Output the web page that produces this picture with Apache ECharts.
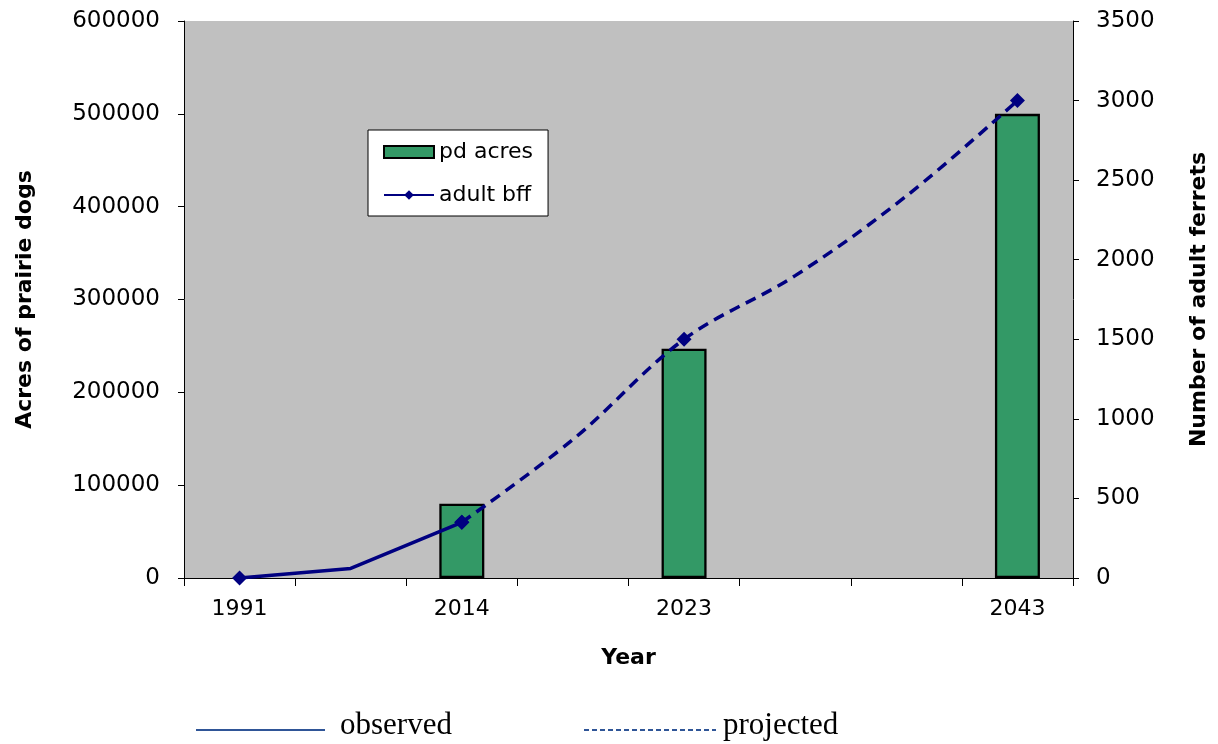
<!DOCTYPE html>
<html>
<head>
<meta charset="utf-8">
<script src="https://cdn.jsdelivr.net/npm/echarts@6/dist/echarts.min.js"></script>
<style>html,body{margin:0;padding:0;background:#fff;overflow:hidden;}#c{width:1218px;height:744px;}</style>
</head>
<body>
<div id="c"></div>
<script>
// Category slots (8 equal slots; only some are labelled)
var categories = ['1991', ' ', '2014', '  ', '2023', '   ', '    ', '2043'];
// Acres of prairie dogs (bars, left axis)
var pdAcres = [null, null, 80000, null, 247000, null, null, 500000];
// Adult black-footed ferrets (line, right axis)
var bffObserved = [0, 60, 350, null, null, null, null, null];
var bffProjected = [null, null, 350, 870, 1500, 1900, 2400, 3000];
// slots that carry a diamond marker
var markerSlots = [0, 2, 4, 7];
var leftTicks = [0, 100000, 200000, 300000, 400000, 500000, 600000];
var rightTicks = [0, 500, 1000, 1500, 2000, 2500, 3000, 3500];

function withMarkers(arr) {
  return arr.map(function (v, i) {
    if (v === null) return null;
    return markerSlots.indexOf(i) >= 0 ? { value: v } : { value: v, symbol: 'none' };
  });
}

var chart = echarts.init(document.getElementById('c'));
var font = '"DejaVu Sans", Verdana, sans-serif';
var serif = '31px "Liberation Serif", "Times New Roman", serif';
chart.setOption({
  animation: false,
  backgroundColor: '#ffffff',
  grid: { left: 184, right: 139, top: 21, bottom: 166, show: true, backgroundColor: '#c0c0c0', borderWidth: 0 },
  legend: {
    data: [{ name: 'pd acres', icon: 'rect' }, { name: 'adult bff' }],
    orient: 'vertical',
    left: 368, top: 130,
    padding: [11, 15, 10, 15],
    itemWidth: 50, itemHeight: 12, itemGap: 21,
    backgroundColor: '#ffffff', borderColor: '#000000', borderWidth: 1, borderRadius: 0,
    textStyle: { fontFamily: font, fontSize: 22, color: '#000' },
    selectedMode: false
  },
  xAxis: {
    type: 'category',
    data: categories,
    boundaryGap: true,
    name: 'Year', nameLocation: 'middle', nameGap: 69,
    nameTextStyle: { fontFamily: font, fontSize: 22, fontWeight: 'bold', color: '#000' },
    axisLine: { lineStyle: { color: '#000', width: 1 } },
    axisTick: { show: true, length: 8, alignWithLabel: false, interval: 0, lineStyle: { color: '#000' } },
    axisLabel: { interval: 0, margin: 20, fontFamily: font, fontSize: 22, color: '#000' },
    splitLine: { show: false }
  },
  yAxis: [{
    type: 'value', min: 0, max: 600000, interval: 100000, position: 'left',
    name: 'Acres of prairie dogs', nameLocation: 'middle', nameGap: 148, nameRotate: 90,
    nameTextStyle: { fontFamily: font, fontSize: 22, fontWeight: 'bold', color: '#000' },
    axisLine: { show: true, lineStyle: { color: '#000' } },
    axisTick: { show: true, length: 6, lineStyle: { color: '#000' } },
    axisLabel: { margin: 24, fontFamily: font, fontSize: 23, color: '#000',
      formatter: function (v) { return leftTicks.indexOf(v) >= 0 ? String(v) : ''; } },
    splitLine: { show: false }
  }, {
    type: 'value', min: 0, max: 3500, interval: 500, position: 'right',
    name: 'Number of adult ferrets', nameLocation: 'middle', nameGap: 115, nameRotate: 90,
    nameTextStyle: { fontFamily: font, fontSize: 22, fontWeight: 'bold', color: '#000' },
    axisLine: { show: true, lineStyle: { color: '#000' } },
    axisTick: { show: true, length: 6, lineStyle: { color: '#000' } },
    axisLabel: { margin: 23, fontFamily: font, fontSize: 23, color: '#000',
      formatter: function (v) { return rightTicks.indexOf(v) >= 0 ? String(v) : ''; } },
    splitLine: { show: false }
  }],
  series: [{
    name: 'pd acres', type: 'bar', yAxisIndex: 0, data: pdAcres, barWidth: 45,
    itemStyle: { color: '#339966', borderColor: '#000', borderWidth: 2.3 }
  }, {
    name: 'adult bff', type: 'line', yAxisIndex: 1, data: withMarkers(bffObserved),
    symbol: 'diamond', symbolSize: 15, showAllSymbol: true,
    lineStyle: { color: '#000080', width: 3.5 }, itemStyle: { color: '#000080' }
  }, {
    name: 'adult bff', type: 'line', yAxisIndex: 1, data: withMarkers(bffProjected),
    symbol: 'diamond', symbolSize: 15, showAllSymbol: true, smooth: 0.35,
    lineStyle: { color: '#000080', width: 3.5, type: [11, 7] }, itemStyle: { color: '#000080' }
  }],
  graphic: [
    { type: 'line', shape: { x1: 196, y1: 730, x2: 325, y2: 730 }, style: { stroke: '#2f5597', lineWidth: 2 } },
    { type: 'text', style: { x: 340, y: 726, text: 'observed', font: serif, fill: '#000', textVerticalAlign: 'middle', verticalAlign: 'middle' } },
    { type: 'line', shape: { x1: 584, y1: 730, x2: 716, y2: 730 }, style: { stroke: '#2f5597', lineWidth: 2, lineDash: [5, 3] } },
    { type: 'text', style: { x: 723, y: 726, text: 'projected', font: serif, fill: '#000', textVerticalAlign: 'middle', verticalAlign: 'middle' } }
  ]
});
</script>
</body>
</html>
